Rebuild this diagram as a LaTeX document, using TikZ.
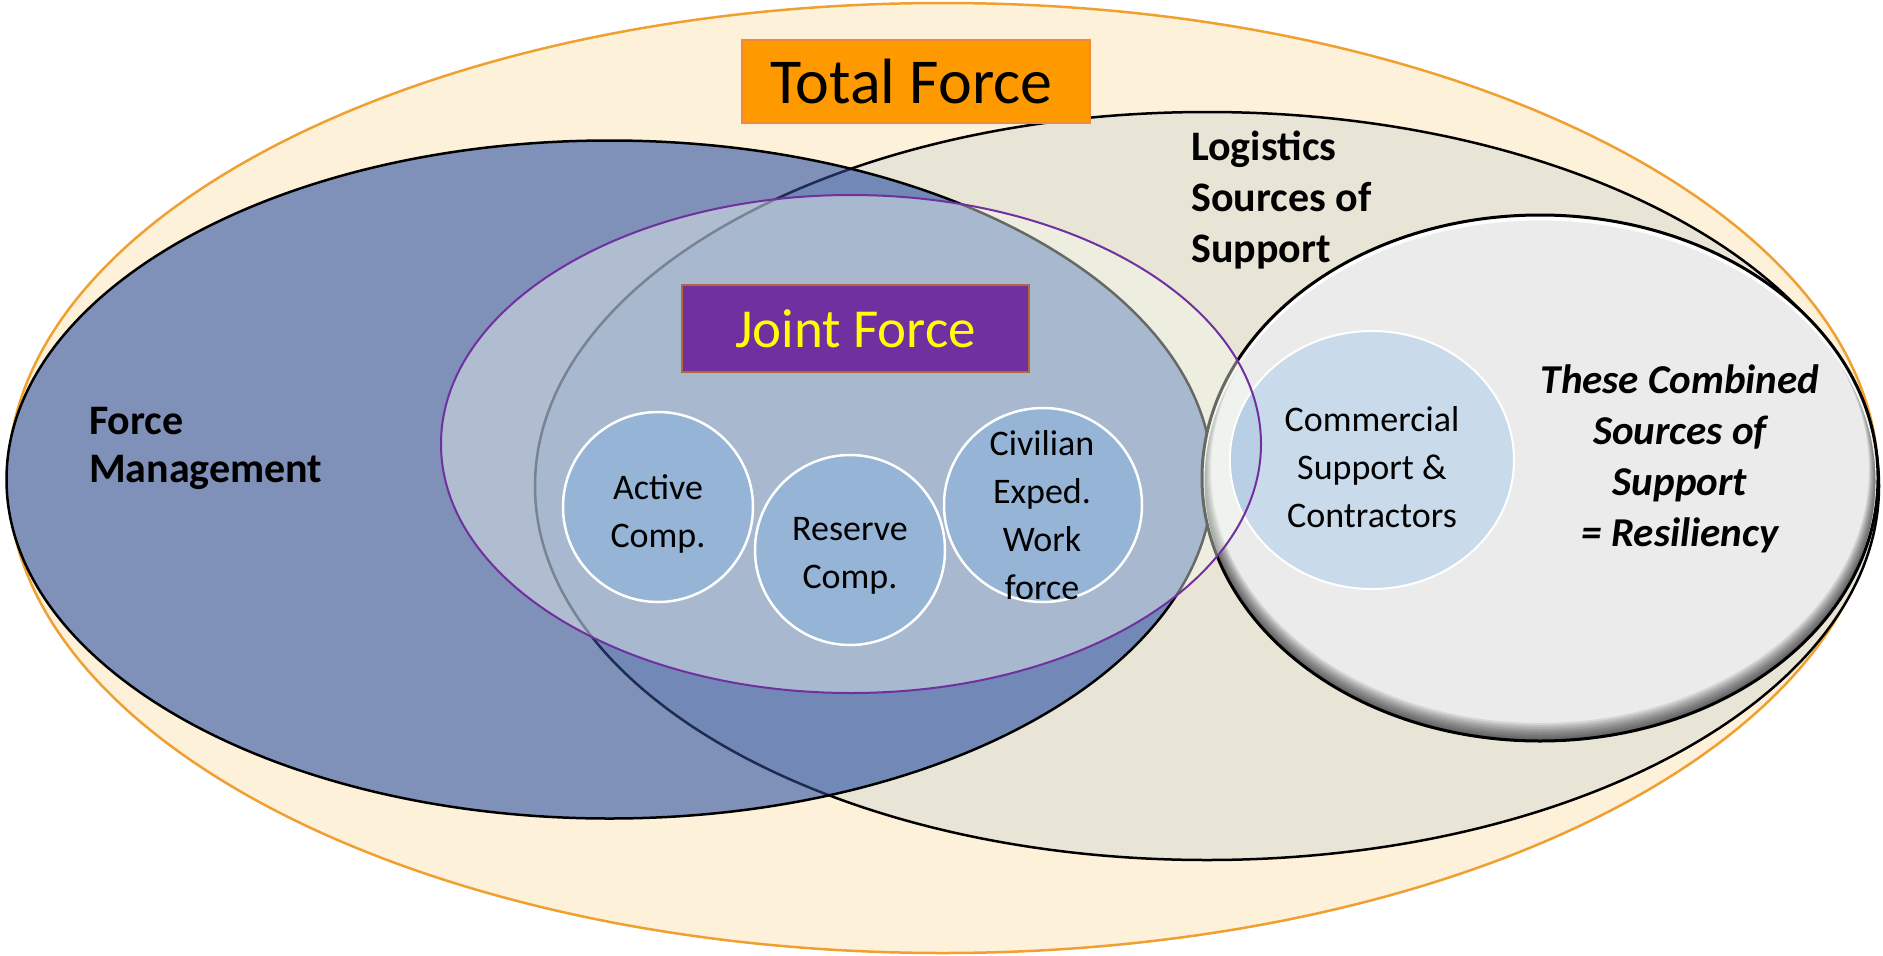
\documentclass[tikz,border=0pt]{standalone}
\usepackage{fontspec}
\setmainfont{Carlito}
\usetikzlibrary{shapes.geometric}
\definecolor{outerfill}{HTML}{FEF1DA}
\definecolor{outerline}{HTML}{F0A030}
\definecolor{fmfill}{HTML}{7F90B9}
\definecolor{ovfill}{HTML}{7288B6}
\definecolor{logfill}{HTML}{E8E4D6}
\definecolor{navyline}{HTML}{1E2C52}
\definecolor{resfill}{HTML}{EBEBEB}
\definecolor{jfline}{HTML}{7030A0}
\definecolor{jffill}{HTML}{F5FCF0}
\definecolor{compfill}{HTML}{95B4D6}
\definecolor{comfill}{HTML}{C9DAEA}
\definecolor{comfillb}{HTML}{B8CFE6}
\definecolor{tfbox}{HTML}{FF9900}
\definecolor{tfline}{HTML}{EE8A3A}
\definecolor{jfbox}{HTML}{7030A0}
\definecolor{jfboxline}{HTML}{B5653A}
\definecolor{jftext}{HTML}{FFFF00}
\begin{document}
\begin{tikzpicture}[x=1pt,y=-1pt,
  comp/.style={ellipse, draw=white, line width=2.5pt, fill=compfill, inner sep=0pt},
  smalltext/.style={align=center, inner sep=0pt, font=\fontsize{36}{48}\selectfont},
  boldlabel/.style={align=left, inner sep=0pt, anchor=west, font=\fontsize{42}{48}\selectfont\bfseries},
  reslabel/.style={align=center, inner sep=0pt, font=\fontsize{41}{51}\selectfont\bfseries\itshape},
  titlebox/.style={inner sep=0pt, line width=2pt}
]
\fill[white] (0,0) rectangle (1883,956);
\useasboundingbox (0,0) rectangle (1883,956);
% centres
\coordinate (outerc) at (943,478);
\coordinate (logc) at (1207,486);
\coordinate (fmc) at (609.5,479.5);
\coordinate (resc) at (1540,478);
\coordinate (jfc) at (851,444);
% outer Total Force ellipse
\draw[fill=outerfill, draw=outerline, line width=2.5pt] (outerc) ellipse [x radius=935, y radius=475];
% logistics
\draw[fill=logfill, line width=2.5pt] (logc) ellipse [x radius=672, y radius=374];
% force management
\fill[fmfill] (fmc) ellipse [x radius=603, y radius=339];
\begin{scope}
  \clip (fmc) ellipse [x radius=603, y radius=339];
  \fill[ovfill] (logc) ellipse [x radius=672, y radius=374];
  \draw[navyline, line width=2.5pt] (logc) ellipse [x radius=672, y radius=374];
\end{scope}
\draw[line width=2.5pt] (fmc) ellipse [x radius=603, y radius=339];
% resiliency
\fill[resfill] (resc) ellipse [x radius=338, y radius=263];
\begin{scope}
  \clip (resc) ellipse [x radius=338, y radius=263];
  \foreach \s in {1,...,9}
    \draw[black, opacity=0.09, line width={2*\s pt}] (1540,478-\s) ellipse [x radius=338, y radius=263];
  \draw[white, opacity=0.9, line width=5pt] (1540,481) ellipse [x radius=338, y radius=263];
\end{scope}
\draw[line width=3pt] (resc) ellipse [x radius=338, y radius=263];
% joint force ellipse fill
\fill[jffill, fill opacity=0.42] (jfc) ellipse [x radius=410, y radius=249];
% commercial
\node[ellipse, draw=white, line width=2pt, fill=comfill, inner sep=0pt,
      minimum width=284pt, minimum height=258pt] (com) at (1372,460) {};
\begin{scope}
  \clip (jfc) ellipse [x radius=410, y radius=249];
  \fill[comfillb] (com.center) ellipse [x radius=141, y radius=128];
\end{scope}
% joint force outline
\draw[jfline, line width=2pt] (jfc) ellipse [x radius=410, y radius=249];
% components
\node[comp, minimum width=190pt, minimum height=190pt] (active) at (658,507) {};
\node[comp, minimum width=190pt, minimum height=190pt] (reserve) at (850,550) {};
\node[comp, minimum width=198pt, minimum height=194pt] (civil) at (1043,505) {};
% labels
\node[smalltext] (activelbl) at (658,514) {Active\\Comp.};
\node[smalltext] (reservelbl) at (850,556) {Reserve\\Comp.};
\node[smalltext] (civillbl) at (1042,515) {Civilian\\Exped.\\Work\\force};
\node[smalltext] (comlbl) at (1372,467) {Commercial\\Support \&\\Contractors};
\node[boldlabel] (fmlbl) at (89,448) {Force\\Management};
\node[boldlabel, font=\fontsize{42}{51}\selectfont\bfseries] (loglbl) at (1191,200) {Logistics\\Sources of\\Support};
\node[reslabel] (reslbl) at (1680,458.5) {These Combined\\Sources of\\Support\\= Resiliency};
% title boxes
\node[titlebox, fill=tfbox, draw=tfline, minimum width=348pt, minimum height=83pt,
      font=\fontsize{64}{70}\selectfont] (total) at (915.5,81.5) {\hspace*{-8pt}Total Force};
\node[titlebox, fill=jfbox, draw=jfboxline, minimum width=347pt, minimum height=87pt,
      text=jftext, font=\fontsize{55}{62}\selectfont] (joint) at (855.5,328.5) {Joint Force};
\end{tikzpicture}
\end{document}
